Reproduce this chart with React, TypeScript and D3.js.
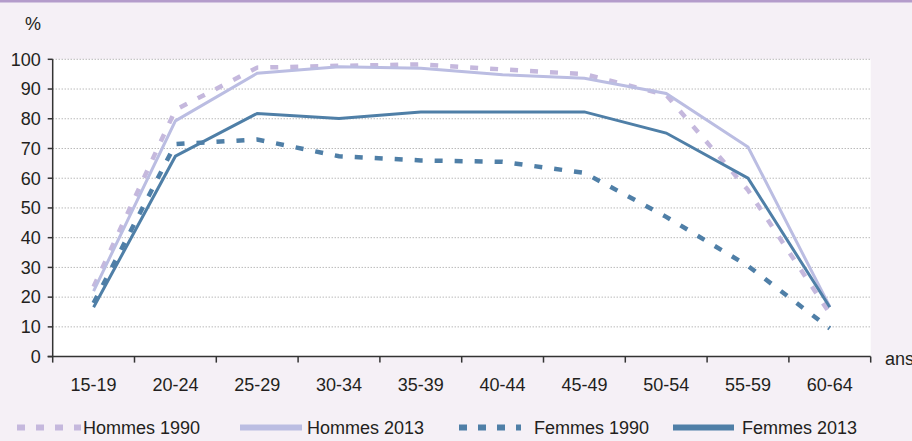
import React from "react";
import * as d3 from "d3";

const categories = ["15-19","20-24","25-29","30-34","35-39","40-44","45-49","50-54","55-59","60-64"];
const hommes1990 = [23.5, 83, 97.2, 97.8, 98.3, 96.6, 95, 88, 56, 14.5];
const hommes2013 = [22, 79.3, 95.3, 97.5, 97, 94.8, 93.6, 88.5, 70.5, 16.8];
const femmes1990 = [18, 71.5, 73, 67.4, 66, 65.5, 61.8, 47, 30.5, 9.5];
const femmes2013 = [16.6, 67.4, 81.8, 80.1, 82.3, 82.3, 82.3, 75.2, 60, 16.6];
const yTicks = [0,10,20,30,40,50,60,70,80,90,100];

const W = 912, H = 441;
const left = 52.7, right = 870.7, top = 59.3, bottom = 356.6;
const FONT = "'Liberation Sans', Arial, sans-serif";
const TXT = "#231f20";
const HOM = "#bbbde2";
const HOM_D = "#c5b8dd";
const FEM = "#4f7fa7";

export default function App() {
  const x = d3.scaleBand().domain(categories).range([left, right]);
  const y = d3.scaleLinear().domain([0, 100]).range([bottom, top]);
  const line = d3.line<number>()
    .x((_, i) => (x(categories[i]) as number) + x.bandwidth() / 2)
    .y((d) => y(d));

  const series = [
    { name: "Hommes 1990", data: hommes1990, color: HOM_D, dash: "8,12", w: 4.5, lx: 17, lx2: 81, tx: 83, ldash: "8,11" },
    { name: "Hommes 2013", data: hommes2013, color: HOM, dash: null, w: 3, lx: 240, lx2: 302, tx: 307, ldash: null },
    { name: "Femmes 1990", data: femmes1990, color: FEM, dash: "8,12", w: 4.5, lx: 459, lx2: 521, tx: 534, ldash: "8,11" },
    { name: "Femmes 2013", data: femmes2013, color: FEM, dash: null, w: 3, lx: 673, lx2: 734, tx: 742, ldash: null },
  ];
  const boundaries = [...categories.map((c) => x(c) as number), right];

  return (
    <svg width={W} height={H} style={{ position: "absolute", left: 0, top: 0 }} fontFamily={FONT}>
      <rect x={0} y={0} width={W} height={H} fill="#f5f0f6" />
      <rect x={0} y={0} width={W} height={2.5} fill="#b49ccb" />
      <rect x={left} y={top} width={right - left} height={bottom - top} fill="#ffffff" />
      {yTicks.filter((t) => t > 0).map((t) => (
        <line key={"g" + t} x1={left} x2={right} y1={y(t)} y2={y(t)} stroke="#9a9a9a" strokeWidth={1} strokeDasharray="1,2" />
      ))}
      <line x1={left} x2={left} y1={top} y2={bottom} stroke="#333" strokeWidth={1.5} />
      <line x1={left - 5} x2={right} y1={bottom} y2={bottom} stroke="#333" strokeWidth={1.5} />
      {yTicks.map((t) => (
        <g key={"yt" + t}>
          <line x1={left - 5} x2={left} y1={y(t)} y2={y(t)} stroke="#333" strokeWidth={1.5} />
          <text x={left - 12} y={y(t)} dy="0.35em" textAnchor="end" fontSize={18} fill={TXT}>{t}</text>
        </g>
      ))}
      {boundaries.map((b, i) => (
        <line key={"xt" + i} x1={b} x2={b} y1={bottom} y2={bottom + 6} stroke="#333" strokeWidth={1.5} />
      ))}
      {categories.map((c) => (
        <text key={c} x={(x(c) as number) + x.bandwidth() / 2} y={391} textAnchor="middle" fontSize={18} fill={TXT}>{c}</text>
      ))}
      <text x={25} y={30} fontSize={18} fill={TXT}>%</text>
      <text x={885} y={365} fontSize={18} fill={TXT}>ans</text>
      {series.map((s) => (
        <path key={s.name} d={line(s.data) as string} fill="none" stroke={s.color} strokeWidth={s.w}
          strokeDasharray={s.dash ?? undefined} strokeLinejoin="miter" />
      ))}
      {series.map((s) => (
        <g key={"lg" + s.name}>
          <line x1={s.lx} x2={s.lx2} y1={427.5} y2={427.5} stroke={s.color} strokeWidth={6} strokeDasharray={s.ldash ?? undefined} />
          <text x={s.tx} y={434} fontSize={18} fill={TXT}>{s.name}</text>
        </g>
      ))}
    </svg>
  );
}
